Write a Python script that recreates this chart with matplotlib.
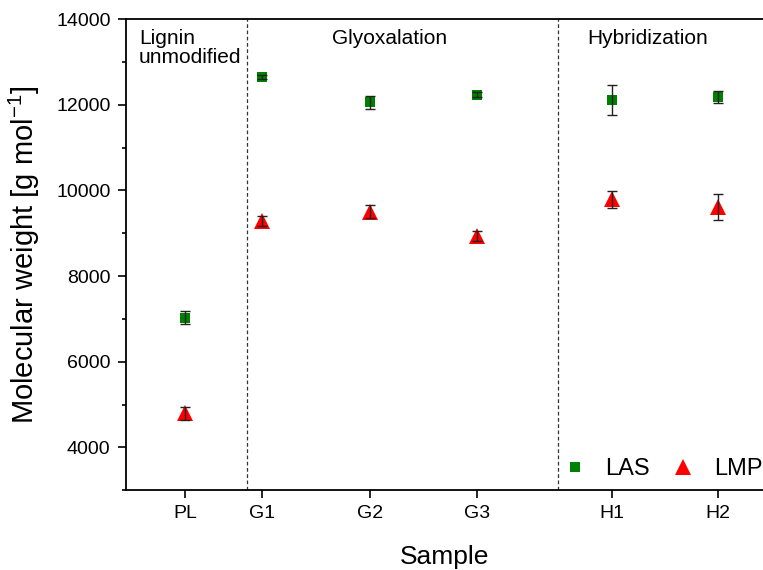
import matplotlib
matplotlib.use("Agg")
import matplotlib.pyplot as plt
from matplotlib.ticker import MultipleLocator

plt.rcParams['font.family'] = ['Liberation Sans', 'DejaVu Sans']
plt.rcParams['mathtext.default'] = 'regular'

samples = ["PL", "G1", "G2", "G3", "H1", "H2"]
las = [7030, 12640, 12060, 12230, 12110, 12180]
las_err = [160, 50, 150, 60, 360, 140]
lmp = [4800, 9290, 9500, 8940, 9790, 9610]
lmp_err = [150, 110, 150, 110, 190, 300]
groups = ["Lignin\nunmodified", "Glyoxalation", "Hybridization"]

# layout positions (axis units)
xpos = [1.85, 2.62, 3.70, 4.77, 6.12, 7.18]
dividers = [2.47, 5.58]

fig = plt.figure(figsize=(7.63, 5.70), dpi=100)
ax = fig.add_axes([0.165, 0.140, 0.835, 0.8265])

h1, = ax.plot(xpos, las, 's', color='#008000', ms=7.5, mew=0, label='LAS', zorder=3)
h2, = ax.plot(xpos, lmp, '^', color='#ff0000', ms=11, mew=0, label='LMP', zorder=3)
for vals, errs in ((las, las_err), (lmp, lmp_err)):
    ax.errorbar(xpos, vals, yerr=errs, fmt='none', ecolor='#222222',
                elinewidth=1.0, capsize=3.5, capthick=1.0, zorder=4)

for d in dividers:
    ax.axvline(d, color='#333333', lw=0.9, ls=(0, (3, 2)), zorder=1)

ax.set_xlim(1.26, 7.63)
ax.set_ylim(3000, 14000)
ax.set_xticks(xpos)
ax.set_xticklabels(samples)
ax.yaxis.set_major_locator(MultipleLocator(2000))
ax.yaxis.set_minor_locator(MultipleLocator(1000))
ax.tick_params(axis='both', which='major', direction='out', length=6, width=1.2,
               labelsize=14, pad=5)
ax.tick_params(axis='y', which='minor', direction='out', length=3, width=1.2)
ax.tick_params(axis='x', which='minor', bottom=False)

for s in ['left', 'bottom', 'top']:
    ax.spines[s].set_linewidth(1.3)
ax.spines['right'].set_visible(False)

ax.set_ylabel("Molecular weight [g mol$^{-1}$]", fontsize=21, labelpad=10)
ax.set_xlabel("Sample", fontsize=19, labelpad=16)

ax.text(1.39, 13780, groups[0], fontsize=15, ha='left', va='top', linespacing=1.05)
ax.text(3.90, 13780, groups[1], fontsize=15, ha='center', va='top')
ax.text(6.48, 13780, groups[2], fontsize=15, ha='center', va='top')

leg = ax.legend(handles=[h1, h2], loc='lower right', ncol=2, frameon=False,
                fontsize=17, handletextpad=0.7, columnspacing=0.8, markerscale=1.05,
                handlelength=1.2, bbox_to_anchor=(1.021, -0.009), borderaxespad=0.2)

fig.savefig("out.png", dpi=100)
